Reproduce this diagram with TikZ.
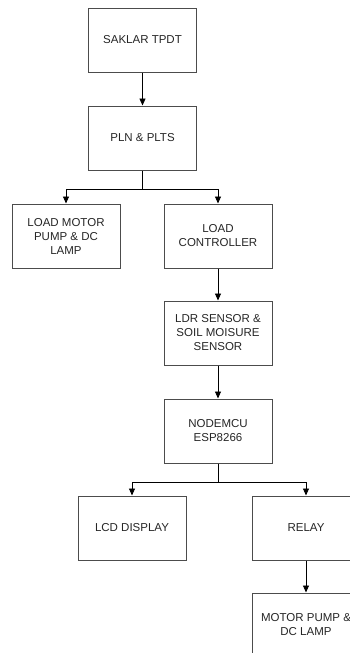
\documentclass[tikz,border=0pt]{standalone}
\usepackage{fontspec}
\setmainfont{Liberation Sans}
\usetikzlibrary{arrows.meta, positioning}

\begin{document}
\begin{tikzpicture}[
    font=\fontsize{11.5}{14}\selectfont,
    block/.style = {rectangle, draw=black!70, line width=1pt, fill=white, text=black!85, align=center, minimum width=108pt, minimum height=64pt, inner sep=2pt},
    line/.style = {draw, line width=0.9pt, -{Triangle[width=6pt, length=7pt]}}
]
\useasboundingbox (0,0) rectangle (349pt,-653pt);

% Nodes
\node [block] (saklar) at (142.5pt,-40pt) {SAKLAR TPDT};
\node [block, below=33pt of saklar] (pln) {PLN \& PLTS};

\coordinate [below=19pt of pln] (split_pln);

\node [block, below=33pt of pln, xshift=75.5pt] (controller) {LOAD\\CONTROLLER};
\node [block, left=43pt of controller] (load_motor) {LOAD MOTOR\\PUMP \& DC\\LAMP};

\node [block, below=32pt of controller] (sensor) {LDR SENSOR \&\\SOIL MOISURE\\SENSOR};
\node [block, below=33pt of sensor] (nodemcu) {NODEMCU\\ESP8266};

\coordinate [below=19pt of nodemcu] (split_mcu);

\node [block, below=32pt of nodemcu, xshift=-86pt] (lcd) {LCD DISPLAY};
\node [block, right=65pt of lcd] (relay) {RELAY};
\node [block, below=32pt of relay] (pump) {MOTOR PUMP \&\\DC LAMP};

% Edges
\path [line] (saklar) -- (pln);
\path [draw, line width=0.9pt] (pln) -- (split_pln);
\path [line] (split_pln) -| (load_motor);
\path [line] (split_pln) -| (controller);

\path [line] (controller) -- (sensor);
\path [line] (sensor) -- (nodemcu);

\path [draw, line width=0.9pt] (nodemcu) -- (split_mcu);
\path [line] (split_mcu) -| (lcd);
\path [line] (split_mcu) -| (relay);

\path [line] (relay) -- (pump);

\end{tikzpicture}
\end{document}
